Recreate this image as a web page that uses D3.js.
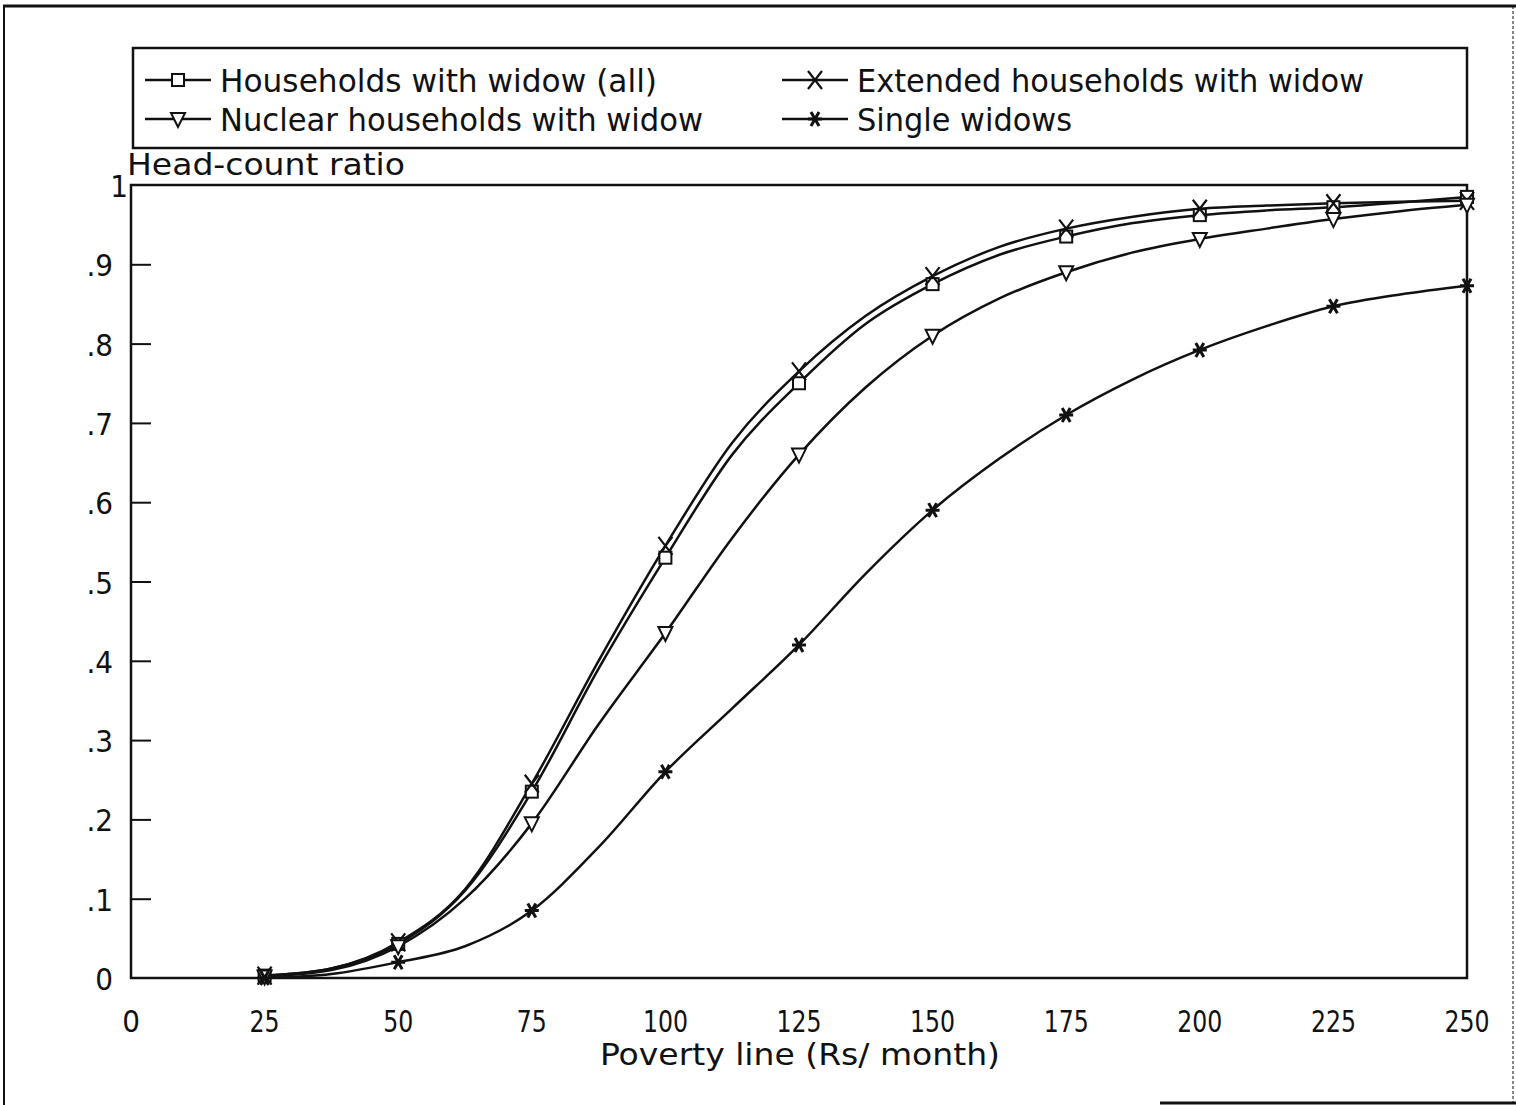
<!DOCTYPE html>
<html>
<head>
<meta charset="utf-8">
<script src="https://cdn.jsdelivr.net/npm/d3@7"></script>
<style>
  body { margin: 0; background: #fff; }
  text { font-family: "DejaVu Sans Condensed", "DejaVu Sans", sans-serif; fill: #111; }
</style>
</head>
<body>
<div id="container"></div>
<script>
/* DATA */
var povertyLine = [25, 37.5, 50, 62.5, 75, 87.5, 100, 112.5, 125, 137.5, 150, 162.5, 175, 187.5, 200, 212.5, 225, 237.5, 250];
var householdsAll = [0.003, 0.012, 0.043, 0.11, 0.235, 0.39, 0.53, 0.66, 0.75, 0.825, 0.875, 0.912, 0.935, 0.952, 0.962, 0.968, 0.972, 0.978, 0.985];
var extended      = [0.003, 0.012, 0.045, 0.112, 0.245, 0.40, 0.545, 0.675, 0.765, 0.835, 0.885, 0.922, 0.945, 0.96, 0.97, 0.974, 0.977, 0.979, 0.98];
var nuclear       = [0.002, 0.01, 0.04, 0.10, 0.195, 0.32, 0.435, 0.555, 0.66, 0.745, 0.81, 0.857, 0.89, 0.915, 0.932, 0.945, 0.957, 0.967, 0.975];
var single        = [0.0, 0.005, 0.02, 0.04, 0.085, 0.165, 0.26, 0.34, 0.42, 0.51, 0.59, 0.655, 0.71, 0.755, 0.792, 0.822, 0.847, 0.862, 0.873];
var seriesNames = ["Households with widow (all)", "Extended households with widow", "Nuclear households with widow", "Single widows"];
var markerTypes = ["square", "cross", "triangle", "asterisk"];
var xTicks = [0, 25, 50, 75, 100, 125, 150, 175, 200, 225, 250];
var yTicks = [0, 0.1, 0.2, 0.3, 0.4, 0.5, 0.6, 0.7, 0.8, 0.9, 1];
var yTickLabels = ["0", ".1", ".2", ".3", ".4", ".5", ".6", ".7", ".8", ".9", "1"];

var width = 1516, height = 1105;
var plotLeft = 131, plotRight = 1467, plotTop = 185, plotBottom = 978;

var svg = d3.select('#container').append('svg')
  .attr('width', width)
  .attr('height', height);

/* SCALES */
var xScale = d3.scaleLinear().domain([0, 250]).range([plotLeft, plotRight]);
var yScale = d3.scaleLinear().domain([0, 1]).range([plotBottom, plotTop]);

// outer frame
var frame = svg.append('g').attr('stroke', '#111').attr('fill', 'none');
frame.append('line').attr('x1', 3).attr('y1', 6).attr('x2', 1516).attr('y2', 6).attr('stroke-width', 3);
frame.append('line').attr('x1', 4).attr('y1', 6).attr('x2', 4).attr('y2', 1105).attr('stroke-width', 2);
frame.append('line').attr('x1', 1513).attr('y1', 6).attr('x2', 1513).attr('y2', 1105).attr('stroke-width', 1).attr('stroke-dasharray', '3,2');
frame.append('line').attr('x1', 1160).attr('y1', 1103).attr('x2', 1516).attr('y2', 1103).attr('stroke-width', 3);

// legend box
svg.append('rect').attr('x', 133).attr('y', 48).attr('width', 1334).attr('height', 100)
  .attr('fill', 'none').attr('stroke', '#111').attr('stroke-width', 2.5);

// plot box
svg.append('rect').attr('x', plotLeft).attr('y', plotTop).attr('width', plotRight - plotLeft).attr('height', plotBottom - plotTop)
  .attr('fill', 'none').attr('stroke', '#111').attr('stroke-width', 2.5);

/* AXES */
var yAxis = d3.axisRight(yScale).tickValues(yTicks.slice(1, 10)).tickSize(20).tickFormat('');
svg.append('g').attr('transform', 'translate(' + plotLeft + ',0)').call(yAxis)
  .call(function(g) { g.select('.domain').remove(); })
  .selectAll('line').attr('stroke', '#111').attr('stroke-width', 2);

svg.append('g').selectAll('text').data(yTicks).enter().append('text')
  .attr('x', function(d) { return d === 1 ? 128 : 113; })
  .attr('y', function(d) { return yScale(d) + 12; })
  .attr('text-anchor', 'end')
  .attr('font-size', 31)
  .text(function(d, i) { return yTickLabels[i]; });

svg.append('g').selectAll('text').data(xTicks).enter().append('text')
  .attr('x', function(d) { return xScale(d); })
  .attr('y', 1032)
  .attr('text-anchor', 'middle')
  .attr('font-size', 31)
  .attr('textLength', function(d) { return d === 0 ? null : String(d).length * 15; })
  .attr('lengthAdjust', 'spacingAndGlyphs')
  .text(function(d) { return d; });

svg.append('text').attr('x', 600).attr('y', 1065)
  .attr('font-size', 31).attr('textLength', 400).attr('lengthAdjust', 'spacingAndGlyphs')
  .text('Poverty line (Rs/ month)');
svg.append('text').attr('x', 127).attr('y', 175).attr('font-size', 30)
  .attr('textLength', 278).attr('lengthAdjust', 'spacingAndGlyphs')
  .text('Head-count ratio');

/* MARKERS */
function drawMarker(g, type, x, y) {
  var s = 6;
  if (type === 'square') {
    g.append('rect').attr('x', x - s).attr('y', y - s).attr('width', 2 * s).attr('height', 2 * s)
      .attr('fill', '#fff').attr('stroke', '#111').attr('stroke-width', 2);
  } else if (type === 'triangle') {
    g.append('path').attr('d', 'M' + (x - 7) + ',' + (y - 6) + 'L' + (x + 7) + ',' + (y - 6) + 'L' + x + ',' + (y + 8) + 'Z')
      .attr('fill', '#fff').attr('stroke', '#111').attr('stroke-width', 2);
  } else if (type === 'cross') {
    g.append('path').attr('d', 'M' + (x - 7) + ',' + (y - 9) + 'L' + (x + 7) + ',' + (y + 9) + 'M' + (x + 7) + ',' + (y - 9) + 'L' + (x - 7) + ',' + (y + 9))
      .attr('stroke', '#111').attr('stroke-width', 2.2).attr('fill', 'none');
  } else {
    g.append('path').attr('d', 'M' + (x - 7) + ',' + y + 'L' + (x + 7) + ',' + y +
        'M' + (x - 4) + ',' + (y - 7) + 'L' + (x + 4) + ',' + (y + 7) +
        'M' + (x + 4) + ',' + (y - 7) + 'L' + (x - 4) + ',' + (y + 7))
      .attr('stroke', '#111').attr('stroke-width', 3).attr('fill', 'none');
  }
}

/* LINES */
var allSeries = [householdsAll, extended, nuclear, single];
var line = d3.line()
  .x(function(d, i) { return xScale(povertyLine[i]); })
  .y(function(d) { return yScale(d); })
  .curve(d3.curveMonotoneX);

allSeries.forEach(function(vals) {
  svg.append('path').attr('d', line(vals))
    .attr('fill', 'none').attr('stroke', '#111').attr('stroke-width', 2.5);
});
allSeries.forEach(function(vals, k) {
  var g = svg.append('g');
  vals.forEach(function(v, i) {
    if (povertyLine[i] % 25 === 0) drawMarker(g, markerTypes[k], xScale(povertyLine[i]), yScale(v));
  });
});

/* LEGEND */
var legendPos = [[145, 80], [782, 80], [145, 119], [782, 119]];
var legendWidths = [437, 507, 483, 215];
seriesNames.forEach(function(name, k) {
  var p = legendPos[k];
  var g = svg.append('g');
  g.append('line').attr('x1', p[0]).attr('x2', p[0] + 66).attr('y1', p[1]).attr('y2', p[1])
    .attr('stroke', '#111').attr('stroke-width', 2.5);
  drawMarker(g, markerTypes[k], p[0] + 33, p[1]);
  g.append('text').attr('x', p[0] + 75).attr('y', p[1] + 12).attr('font-size', 32)
    .attr('textLength', legendWidths[k]).attr('lengthAdjust', 'spacingAndGlyphs')
    .text(name);
});
</script>
</body>
</html>
